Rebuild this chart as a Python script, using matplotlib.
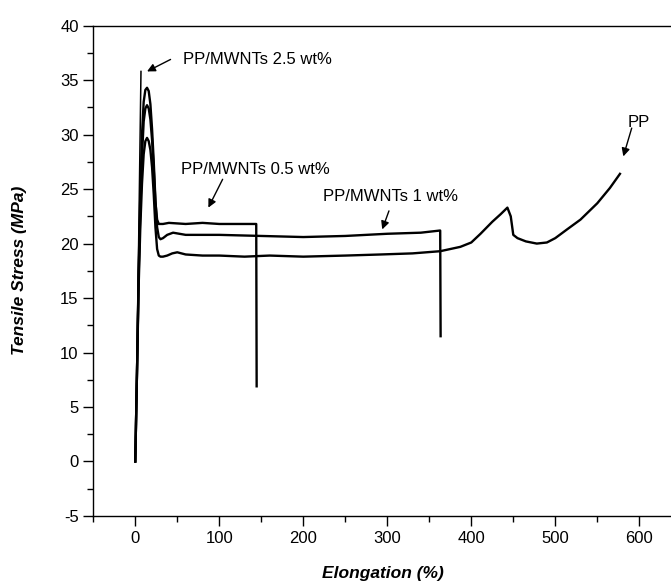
#
# tensile_curves.py
# -----------------
#

import numpy as np
import matplotlib
matplotlib.use("Agg")
import matplotlib.pyplot as plt
from matplotlib.ticker import MultipleLocator

# stress-strain curves (elongation %, stress MPa)
pp_x = [0, 1, 2.5, 4, 6, 8, 10, 12, 14, 16, 18, 20, 22, 24, 26, 28, 30, 33, 38,
        44, 50, 60, 80, 100, 130, 160, 200, 250, 292, 330, 363, 387, 400, 411,
        425, 435, 443, 447, 450, 455, 465, 478, 490, 500, 514, 530, 550, 565, 577]
pp_y = [0, 4, 10, 16, 21.5, 25.5, 28.2, 29.4, 29.7, 29.4, 28.6, 27, 24.5, 21.5,
        19.5, 18.9, 18.8, 18.8, 18.9, 19.1, 19.2, 19.0, 18.9, 18.9, 18.8, 18.9,
        18.8, 18.9, 19.0, 19.1, 19.3, 19.7, 20.1, 20.9, 22.0, 22.7, 23.3, 22.5,
        20.8, 20.5, 20.2, 20.0, 20.1, 20.5, 21.3, 22.2, 23.7, 25.1, 26.4]

cnt05_x = [0, 1, 2.5, 4, 6, 8, 10, 12, 14, 16, 18, 20, 22, 24, 26, 28, 30, 33,
           40, 60, 80, 100, 120, 140, 144, 144.5]
cnt05_y = [0, 4, 10, 17, 23, 28, 31.2, 32.4, 32.7, 32.4, 31.4, 29.5, 26.8, 23.8,
           22.2, 21.8, 21.8, 21.8, 21.9, 21.8, 21.9, 21.8, 21.8, 21.8, 21.8, 6.9]

cnt1_x = [0, 1, 2.5, 4, 6, 8, 10, 12, 14, 16, 18, 20, 22, 24, 26, 28, 30, 33, 38,
          45, 60, 80, 100, 150, 200, 250, 300, 340, 363, 363.5]
cnt1_y = [0, 4, 10, 17.5, 24.5, 30, 33, 34.1, 34.3, 34.0, 32.8, 30.5, 27.5, 24,
          21.5, 20.6, 20.4, 20.5, 20.8, 21.0, 20.8, 20.8, 20.8, 20.7, 20.6, 20.7,
          20.9, 21.0, 21.2, 11.5]

cnt25_x = [0, 2, 4, 6.8]
cnt25_y = [0, 9, 20, 35.8]

# annotations: text, text position, arrow tail, arrow head
labels = ["PP/MWNTs 2.5 wt%", "PP/MWNTs 0.5 wt%", "PP/MWNTs 1 wt%", "PP"]
label_pos = [(57, 36.9), (54, 26.8), (223, 24.3), (586, 31.1)]
arrow_tail = [(42, 36.9), (104, 25.9), (302, 23.0), (591, 30.6)]
arrow_head = [(14, 35.8), (87, 23.3), (294, 21.3), (581, 28.0)]


def drawCurves():
    plt.rcParams['font.family'] = ['Liberation Sans', 'DejaVu Sans']
    plt.rcParams['axes.unicode_minus'] = False

    fig = plt.figure(figsize=(6.71, 5.86), dpi=100)
    ax = fig.add_axes([0.139, 0.1195, 0.8638, 0.8367])

    for xs, ys in [(pp_x, pp_y), (cnt05_x, cnt05_y), (cnt1_x, cnt1_y)]:
        ax.plot(xs, ys, color='black', lw=1.7, solid_joinstyle='round')
    ax.plot(cnt25_x, cnt25_y, color='black', lw=1.1)

    for txt, pos, tail, head in zip(labels, label_pos, arrow_tail, arrow_head):
        ax.text(pos[0], pos[1], txt, fontsize=12, va='center', ha='left')
        ax.annotate("", xy=head, xytext=tail,
                    arrowprops=dict(arrowstyle='-|>', color='black', lw=1.0,
                                    mutation_scale=12, shrinkA=0, shrinkB=0))

    ax.set_xlim(-50, 640)
    ax.set_ylim(-5, 40)
    ax.xaxis.set_major_locator(MultipleLocator(100))
    ax.xaxis.set_minor_locator(MultipleLocator(50))
    ax.yaxis.set_major_locator(MultipleLocator(5))
    ax.yaxis.set_minor_locator(MultipleLocator(2.5))
    ax.tick_params(which='major', direction='out', length=7, width=1.0,
                   labelsize=12, top=False, right=False)
    ax.tick_params(which='minor', direction='out', length=4, width=1.0,
                   top=False, right=False)
    ax.spines['right'].set_visible(False)
    for s in ['left', 'bottom', 'top']:
        ax.spines[s].set_linewidth(1.0)

    ax.set_xlabel("Elongation (%)", fontsize=12.5, fontweight='bold',
                  fontstyle='italic', labelpad=15)
    ax.set_ylabel("Tensile Stress (MPa)", fontsize=12.5, fontweight='bold',
                  fontstyle='italic', labelpad=24)

    plt.savefig("out.png", dpi=100)


if __name__ == "__main__":
    drawCurves()
